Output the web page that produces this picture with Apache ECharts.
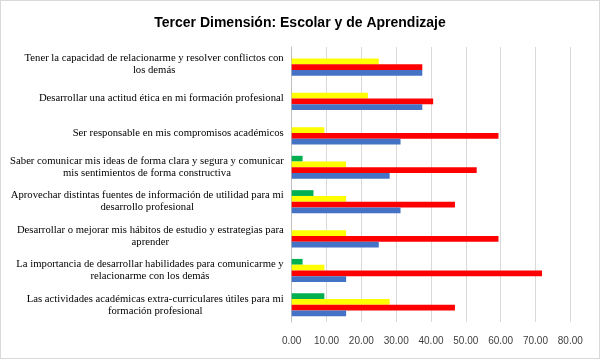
<!DOCTYPE html>
<html>
<head>
<meta charset="utf-8">
<script src="https://cdn.jsdelivr.net/npm/echarts@6/dist/echarts.min.js"></script>
<style>
html,body{margin:0;padding:0;background:#fff;}
#c{width:600px;height:359px;box-sizing:border-box;border:1px solid #d9d9d9;}
</style>
</head>
<body>
<div id="c"></div>
<script>
// Categories listed bottom to top (ECharts category axis order)
const categories = [
  "Las actividades académicas extra-curriculares útiles para mi\nformación profesional",
  "La importancia de desarrollar habilidades para comunicarme y\nrelacionarme con los demás",
  "Desarrollar o mejorar mis hábitos de estudio y estrategias para\naprender",
  "Aprovechar distintas fuentes de información de utilidad para mi\ndesarrollo profesional",
  "Saber comunicar mis ideas de forma clara y segura y comunicar\nmis sentimientos de forma constructiva",
  "Ser responsable en mis compromisos académicos",
  "Desarrollar una actitud ética en mi formación profesional",
  "Tener la capacidad de relacionarme y resolver conflictos con\nlos demás"
];
const greenValues  = [9.375, 3.125, 0, 6.25, 3.125, 0, 0, 0];
const yellowValues = [28.125, 9.375, 15.625, 15.625, 15.625, 9.375, 21.875, 25];
const redValues    = [46.875, 71.875, 59.375, 46.875, 53.125, 59.375, 40.625, 37.5];
const blueValues   = [15.625, 15.625, 25, 31.25, 28.125, 31.25, 37.5, 37.5];
const xTicks = [0, 10, 20, 30, 40, 50, 60, 70, 80];

const chart = echarts.init(document.getElementById('c'), null, {renderer: 'canvas'});
chart.setOption({
  animation: false,
  backgroundColor: '#fff',
  title: {
    text: 'Tercer Dimensión: Escolar y de Aprendizaje',
    left: 'center',
    top: 10,
    textStyle: {fontFamily: 'Liberation Sans', fontWeight: 'bold', fontSize: 14, color: '#000'}
  },
  grid: {left: 290.7, right: 28.7, top: 46, bottom: 36, containLabel: false},
  xAxis: {
    type: 'value',
    min: xTicks[0],
    max: xTicks[xTicks.length - 1],
    interval: 10,
    axisLine: {show: false},
    axisTick: {show: false},
    splitLine: {show: true, lineStyle: {color: '#d9d9d9', width: 1}},
    axisLabel: {
      formatter: v => v.toFixed(2),
      color: '#404040',
      fontFamily: 'Liberation Sans',
      fontSize: 10,
      margin: 14
    }
  },
  yAxis: {
    type: 'category',
    data: categories,
    axisLine: {show: true, lineStyle: {color: '#bfbfbf'}},
    axisTick: {show: false},
    splitLine: {show: false},
    axisLabel: {
      align: 'right',
      margin: 8,
      color: '#000',
      fontFamily: 'Liberation Serif',
      fontSize: 10.7,
      lineHeight: 12,
      interval: 0,
      formatter: v => v.split('\n').map(l => '{c|' + l + '}').join('\n'),
      rich: {c: {align: 'center', fontFamily: 'Liberation Serif', fontSize: 10.7, lineHeight: 12, color: '#000'}}
    }
  },
  series: [
    {name: 'S4', type: 'bar', data: greenValues, itemStyle: {color: '#00b050'}, barGap: '0%', barCategoryGap: '33%'},
    {name: 'S3', type: 'bar', data: yellowValues, itemStyle: {color: '#ffff00'}, barGap: '0%', barCategoryGap: '33%'},
    {name: 'S2', type: 'bar', data: redValues, itemStyle: {color: '#ff0000'}, barGap: '0%', barCategoryGap: '33%'},
    {name: 'S1', type: 'bar', data: blueValues, itemStyle: {color: '#4472c4'}, barGap: '0%', barCategoryGap: '33%'}
  ]
});
</script>
</body>
</html>
